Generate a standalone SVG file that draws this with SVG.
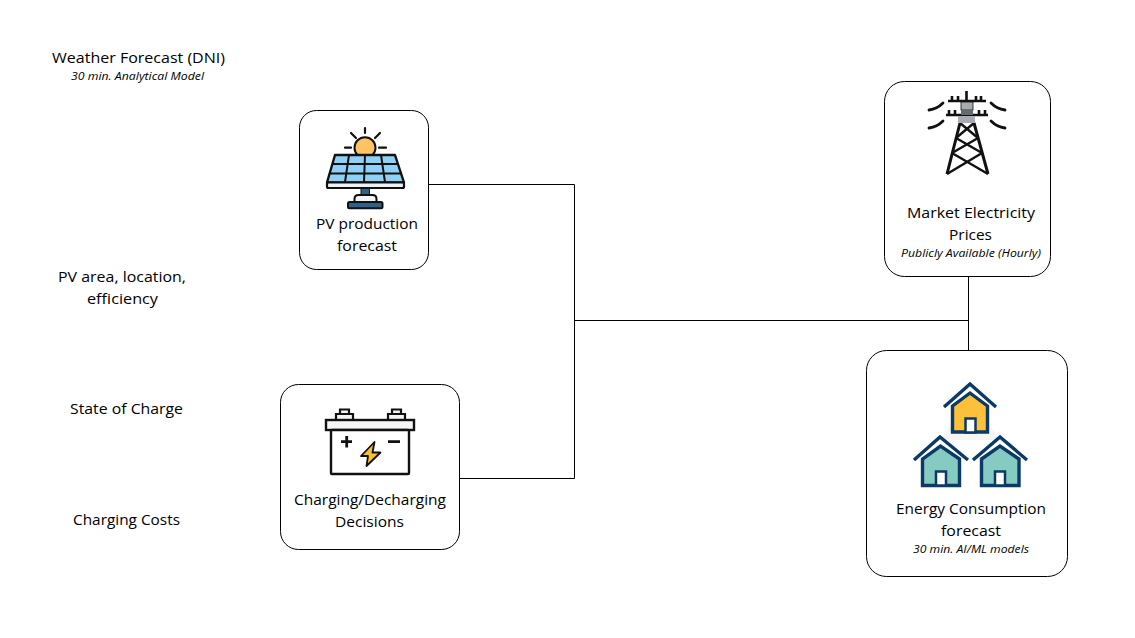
<svg xmlns="http://www.w3.org/2000/svg" width="1135" height="638" viewBox="0 0 1135 638">
<style>
text{font-family:"Open Sans","Noto Sans","Liberation Sans",sans-serif;fill:#000;text-anchor:middle}
.t{font-size:15px}
.s{font-size:11.500px;font-style:italic}
.box{fill:#fff;stroke:#000;stroke-width:1}
.wire{fill:none;stroke:#000;stroke-width:1}
.navy{stroke:#0b3a66;stroke-width:3.400}
</style>
<rect width="1135" height="638" fill="#fff"/>
<g id="connectors">
<path class="wire" d="M429 184.500H574.500V478.500H460"/>
<path class="wire" d="M574.500 320.500H968.500"/>
<path class="wire" d="M968.500 277V350"/>
</g>
<g id="label-weather"><text class="t" x="138.500" y="63" textLength="173" lengthAdjust="spacingAndGlyphs">Weather Forecast (DNI)</text><text class="s" x="137.500" y="79.500" textLength="133" lengthAdjust="spacingAndGlyphs">30 min. Analytical Model</text></g>
<g id="label-pv-area"><text class="t" x="122" y="282" textLength="128" lengthAdjust="spacingAndGlyphs">PV area, location,</text><text class="t" x="122.500" y="304" textLength="71" lengthAdjust="spacingAndGlyphs">efficiency</text></g>
<g id="label-soc"><text class="t" x="126.500" y="414" textLength="113" lengthAdjust="spacingAndGlyphs">State of Charge</text></g>
<g id="label-costs"><text class="t" x="126.500" y="525" textLength="107" lengthAdjust="spacingAndGlyphs">Charging Costs</text></g>
<g id="node-pv">
<rect class="box" x="299.500" y="110.500" width="129" height="159" rx="17"/>
<path d="M365 128V133M351 133L356 138M380 133L375 138M345 147.700H351M386 147.700H379" stroke="#111" stroke-width="2.200" stroke-linecap="round" fill="none"/>
<circle cx="365" cy="147.700" r="10.500" fill="#fcc463" stroke="#111" stroke-width="2"/>
<path d="M335 155H395L404 182.500H327Z" fill="#8fd0f7" stroke="#111" stroke-width="2.400" stroke-linejoin="round"/>
<path d="M349 155L345 182M365 155L364 182M381 155L385 182M332.500 164H398M329.500 173.500H401" stroke="#111" stroke-width="2" fill="none"/>
<rect x="327" y="182.500" width="77" height="5.500" rx="1.500" fill="#eef0f3" stroke="#111" stroke-width="2.200"/>
<rect x="361" y="188.500" width="8.500" height="6.500" fill="#2f6188" stroke="#111"/>
<path d="M354.500 202V199C354.500 196.500 356 195 358.500 195H372.500C375 195 376.500 196.500 376.500 199V202Z" fill="#f4f4f4" stroke="#111" stroke-width="2"/>
<rect x="348" y="202" width="34.500" height="6.200" rx="1.500" fill="#2f6188" stroke="#111" stroke-width="2"/>
<text class="t" x="367" y="229" textLength="102" lengthAdjust="spacingAndGlyphs">PV production</text><text class="t" x="367" y="251" textLength="60" lengthAdjust="spacingAndGlyphs">forecast</text>
</g>
<g id="node-market">
<rect class="box" x="884.500" y="81.500" width="166" height="195" rx="20"/>
<g fill="none" stroke="#111" stroke-width="2.600">
<path d="M966.500 91V102M948 101H986M946 115H988M952 96V101M958 96V101M976 96V101M981 96V101M949 110V115M955 110V115M979 110V115M985 110V115"/>
<path d="M929 110Q937 109 943 103M929 128Q937 127 943 121M1005 110Q997 109 991 103M1005 128Q997 127 991 121" stroke-width="2.800" stroke-linecap="round"/>
<path d="M960 123L947 174M974 123L988 174" stroke-width="3"/>
<path d="M960 123L978 138M974 123L956 138M956 138L982 153M978 138L952 153M952 153L988 174M982 153L947 174" stroke-width="2.400"/>
</g>
<rect x="961" y="102" width="12" height="8" fill="#a8acb0" stroke="#111" stroke-width=".8"/><rect x="961" y="110" width="12" height="5" fill="#666a6e"/><rect x="958" y="116" width="17" height="7" fill="#a8acb0"/>
<text class="t" x="971" y="218" textLength="128" lengthAdjust="spacingAndGlyphs">Market Electricity</text><text class="t" x="970.500" y="240" textLength="43" lengthAdjust="spacingAndGlyphs">Prices</text><text class="s" x="971" y="257" textLength="140" lengthAdjust="spacingAndGlyphs">Publicly Available (Hourly)</text>
</g>
<g id="node-energy">
<rect class="box" x="866.500" y="350.500" width="201" height="226" rx="20"/>
<path d="M970 398L1000 440L940 440Z" fill="#f5f5f5"/>
<path d="M952.500 432V406L970 393L987.500 406V432Z" fill="#fcc03a" class="navy"/>
<path class="navy" fill="none" d="M944 407L970 384L996 407"/>
<rect x="965.500" y="418.500" width="10" height="14" fill="#fff" stroke="#0b3a66" stroke-width="2.500"/>
<path d="M922.500 485.500V459L940.500 446L959.500 459V485.500Z" fill="#85cbc2" class="navy"/>
<path class="navy" fill="none" d="M914 460L940 437L968 460"/>
<rect x="936" y="471.500" width="10" height="14" fill="#fff" stroke="#0b3a66" stroke-width="2.500"/>
<path d="M981.500 485.500V459L1000 446L1019 459V485.500Z" fill="#85cbc2" class="navy"/>
<path class="navy" fill="none" d="M973 460L1000 437L1027 460"/>
<rect x="995" y="471.500" width="10" height="14" fill="#fff" stroke="#0b3a66" stroke-width="2.500"/>
<text class="t" x="971" y="514" textLength="150" lengthAdjust="spacingAndGlyphs">Energy Consumption</text><text class="t" x="971" y="536" textLength="60" lengthAdjust="spacingAndGlyphs">forecast</text><text class="s" x="971" y="553" textLength="116" lengthAdjust="spacingAndGlyphs">30 min. AI/ML models</text>
</g>
<g id="node-battery">
<rect class="box" x="280.500" y="384.500" width="179" height="165" rx="18"/>
<path d="M340 414V409.500H349V414M392 414V409.500H401V414" fill="#f4f4f4" stroke="#111" stroke-width="2.200"/>
<path d="M336 420V414H353V420M388 420V414H405V420" fill="#f4f4f4" stroke="#111" stroke-width="2.200"/>
<rect x="326" y="420" width="88" height="10" fill="#f6f6f6" stroke="#111" stroke-width="2.400"/>
<rect x="331" y="430" width="78" height="44" rx="1" fill="#fff" stroke="#111" stroke-width="2.400"/>
<path d="M341 441.700H352M346.700 436V447.500M388 441.700H400" stroke="#111" stroke-width="2.800" fill="none"/>
<path d="M374.500 442L361 456H368L366.500 466L380.500 452.500H372.500Z" fill="#fbc02d" stroke="#111" stroke-width="1.800" stroke-linejoin="round"/>
<text class="t" x="370" y="505" textLength="152" lengthAdjust="spacingAndGlyphs">Charging/Decharging</text><text class="t" x="369.500" y="527" textLength="69" lengthAdjust="spacingAndGlyphs">Decisions</text>
</g>
</svg>
